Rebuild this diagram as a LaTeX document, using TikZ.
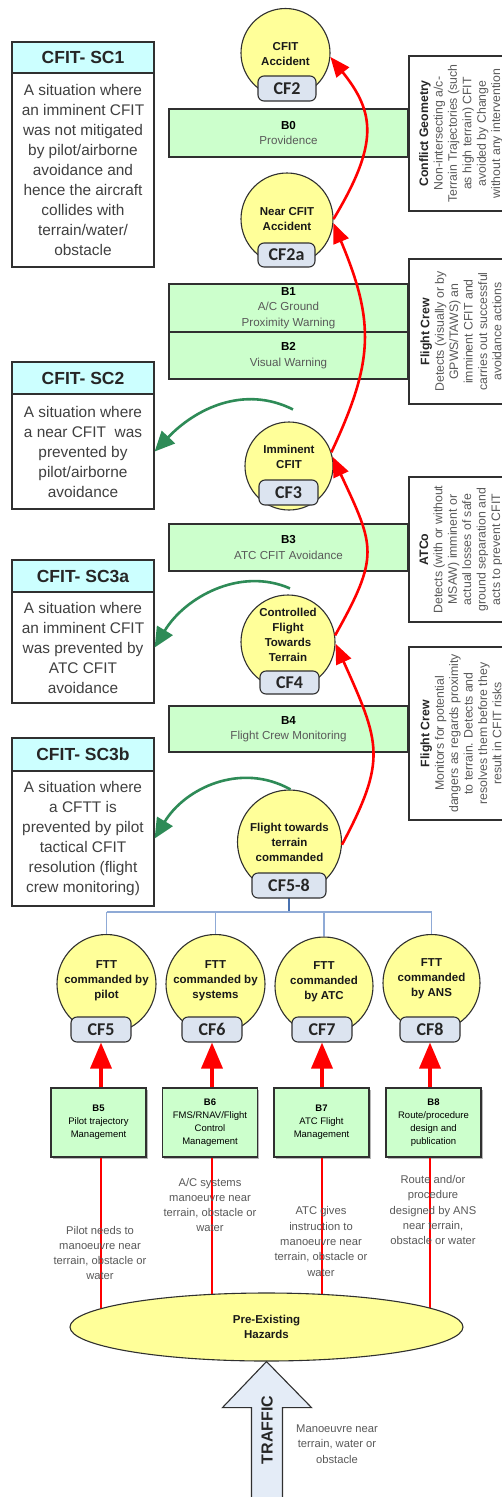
\documentclass[tikz,border=0pt]{standalone}
\usepackage{fontspec}
\setmainfont{Liberation Sans}
\newfontfamily\carl{Carlito}
\usetikzlibrary{arrows.meta,shapes.geometric,shadows}

\definecolor{cfyellow}{HTML}{FFFF99}
\definecolor{labblue}{HTML}{DCE4F0}
\definecolor{bgreen}{HTML}{CCFFCC}
\definecolor{sccyan}{HTML}{CCFFFF}
\definecolor{txtgray}{HTML}{595959}
\definecolor{outl}{HTML}{303030}
\definecolor{arrgreen}{RGB}{46,139,87}
\definecolor{treeblue}{HTML}{8FAAD6}
\definecolor{treedark}{HTML}{4A72B0}
\definecolor{traffblue}{HTML}{E4ECF7}

\newcommand\gry[1]{\textcolor{txtgray}{#1}}
\newcommand\ttl[1]{\textcolor{black!85}{\textbf{#1}}}

\tikzset{
  circ/.style={circle, draw=outl, fill=cfyellow, line width=1.1pt, inner sep=0pt},
  ctext/.style={align=center, inner sep=0pt, text=black!90, font=\bfseries\fontsize{11.5}{15}\selectfont},
  cflab/.style={draw=outl, fill=labblue, rounded corners=6pt, line width=1.1pt, inner sep=0pt,
    font=\carl\bfseries\fontsize{18}{18}\selectfont, text=black!85},
  bbar/.style={draw=outl, fill=bgreen, line width=1.1pt, inner sep=0pt, minimum width=239pt,
    align=center, font=\fontsize{11.6}{15.5}\selectfont},
  bsmall/.style={draw=outl, fill=bgreen, line width=1.1pt, inner sep=0pt, minimum width=95pt,
    minimum height=69pt, align=center, font=\fontsize{9.5}{13}\selectfont,
    drop shadow={shadow xshift=1.5pt, shadow yshift=-1.5pt, fill=black!55}},
  schead/.style={draw=outl, fill=sccyan, line width=1.3pt, minimum width=142pt, inner sep=0pt,
    font=\bfseries\fontsize{17.5}{20}\selectfont, text=black!85},
  scbody/.style={draw=outl, fill=white, line width=1.3pt, minimum width=142pt, inner sep=0pt,
    align=center, font=\fontsize{15.4}{20}\selectfont, text=black!75},
  rbox/.style={draw=outl, fill=white, line width=1.3pt, rotate=90, inner sep=0pt, align=center,
    minimum height=104pt, font=\fontsize{12.3}{14.4}\selectfont, text=txtgray},
  note/.style={align=center, inner sep=0pt, text=txtgray, font=\fontsize{11.2}{15.3}\selectfont},
  redcurve/.style={draw=red, line width=2.6pt, -{Triangle[length=20pt,width=16pt]}},
  greencurve/.style={draw=arrgreen, line width=2.6pt, -{Triangle[length=20pt,width=18pt]}},
  redup/.style={draw=red, line width=3.5pt, -{Triangle[length=26pt,width=21pt]}},
  redline/.style={draw=red, line width=2.6pt},
  tree/.style={draw=treeblue, line width=1.8pt},
}

\begin{document}
\begin{tikzpicture}[x=1pt,y=-1pt]
\useasboundingbox (0,0) rectangle (502,1497);
\fill[white] (0,0) rectangle (502,1497);

% ---------- scenario boxes (left column) ----------
\node[schead, minimum height=31pt] (sc1h) at (83,57.5) {CFIT- SC1};
\node[scbody, minimum height=194pt] (sc1) at (83,170) {A situation where\\an imminent CFIT\\was not mitigated\\by pilot/airborne\\avoidance and\\hence the aircraft\\collides with\\terrain/water/\\obstacle};

\node[schead, minimum height=32pt] (sc2h) at (83,378) {CFIT- SC2};
\node[scbody, minimum height=115pt] (sc2) at (83,451.5) {A situation where\\a near CFIT\ \ was\\prevented by\\pilot/airborne\\avoidance};

\node[schead, minimum height=32pt] (sc3ah) at (83,576) {CFIT- SC3a};
\node[scbody, minimum height=111pt] (sc3a) at (83,647.5) {A situation where\\an imminent CFIT\\was prevented by\\ATC CFIT\\avoidance};

\node[schead, minimum height=33pt] (sc3bh) at (83,754.5) {CFIT- SC3b};
\node[scbody, minimum height=135pt] (sc3b) at (83,838.5) {A situation where\\a CFTT is\\prevented by pilot\\tactical CFIT\\resolution (flight\\crew monitoring)};

% ---------- barrier bars ----------
\node[bbar, minimum height=48pt] (b0) at (288.5,133) {\textbf{B0}\\\gry{Providence}};
\node[bbar, minimum height=48pt] (b1) at (288.5,308) {\textbf{B1}\\\gry{A/C Ground}\\\gry{Proximity Warning}};
\node[bbar, minimum height=47pt] (b2) at (288.5,355.5) {\textbf{B2}\\\gry{Visual Warning}};
\node[bbar, minimum height=47pt] (b3) at (288.5,547.5) {\textbf{B3}\\\gry{ATC CFIT Avoidance}};
\node[bbar, minimum height=46pt] (b4) at (288.5,729) {\textbf{B4}\\\gry{Flight Crew Monitoring}};

% ---------- actor boxes (right column, rotated text) ----------
\node[rbox, minimum width=155pt] (r0) at (461,133.5) {\ttl{Conflict Geometry}\\Non-intersecting a/c-\\Terrain Trajectories (such\\as high terrain) CFIT\\avoided by Change\\without any intervention};
\node[rbox, minimum width=145pt] (r1) at (461,331.5) {\ttl{Flight Crew}\\Detects (visually or by\\GPWS/TAWS) an\\imminent CFIT and\\carries out successful\\avoidance actions};
\node[rbox, minimum width=145pt] (r2) at (461,549.5) {\ttl{ATCo}\\Detects (with or without\\MSAW) imminent or\\actual losses of safe\\ground separation and\\acts to prevent CFIT};
\node[rbox, minimum width=173pt] (r3) at (461,733.5) {\ttl{Flight Crew}\\Monitors for potential\\dangers as regards proximity\\to terrain. Detects and\\resolves them before they\\result in CFIT risks};

% ---------- tree from CF5-8 to the four causes ----------
\coordinate (tj) at (289,912);
\coordinate (t58) at (289,898);
\draw[tree, draw=treedark] (t58) -- (tj);
\draw[tree] (106.5,912) -- (431.5,912);

% ---------- central chain of circles ----------
\node[circ, minimum size=89pt] (cf2) at (285.5,53) {};
\node[ctext] (cf2t) at (285.5,54.5) {CFIT\\Accident};
\node[cflab, minimum width=58pt, minimum height=25pt] (l2) at (287,88.5) {CF2};

\node[circ, minimum size=92pt] (cf2a) at (287,219) {};
\node[ctext] (cf2at) at (287,219) {Near CFIT\\Accident};
\node[cflab, minimum width=57pt, minimum height=24pt] (l2a) at (286.5,255) {CF2a};

\node[circ, minimum size=88pt] (cf3) at (289,466) {};
\node[ctext] (cf3t) at (289,456.5) {Imminent\\CFIT};
\node[cflab, minimum width=59pt, minimum height=25pt] (l3) at (288.5,492.5) {CF3};

\node[circ, minimum size=94pt] (cf4) at (288,642) {};
\node[ctext] (cf4t) at (288,635) {Controlled\\Flight\\Towards\\Terrain};
\node[cflab, minimum width=59pt, minimum height=23pt] (l4) at (289.5,682.5) {CF4};

\node[circ, minimum size=104pt] (cf58) at (289.5,842) {};
\node[ctext] (cf58t) at (289.5,842.5) {Flight towards\\terrain\\commanded};
\node[cflab, minimum width=74pt, minimum height=25pt] (l58) at (289,885.5) {CF5-8};

% ---------- the four commanding causes ----------
\node[circ, minimum size=99pt] (cf5) at (106.5,984) {};
\node[circ, minimum size=99pt] (cf6) at (215.5,984) {};
\node[circ, minimum size=98pt] (cf7) at (324,986) {};
\node[circ, minimum size=97pt] (cf8) at (431.5,983) {};
\draw[tree] (cf5.north |- tj) -- (cf5.north);
\draw[tree] (cf6.north |- tj) -- (cf6.north);
\draw[tree] (cf7.north |- tj) -- (cf7.north);
\draw[tree] (cf8.north |- tj) -- (cf8.north);
\node[ctext] (cf5t) at (106.5,980.5) {FTT\\commanded by\\pilot};
\node[ctext] (cf6t) at (215.5,980.5) {FTT\\commanded by\\systems};
\node[ctext] (cf7t) at (324,982) {FTT\\commanded\\by ATC};
\node[ctext] (cf8t) at (431.5,979) {FTT\\commanded\\by ANS};
\node[cflab, minimum width=60pt, minimum height=25pt] (l5) at (101,1029.5) {CF5};
\node[cflab, minimum width=60pt, minimum height=25pt] (l6) at (212,1029.5) {CF6};
\node[cflab, minimum width=60pt, minimum height=25pt] (l7) at (322,1029.5) {CF7};
\node[cflab, minimum width=60pt, minimum height=25pt] (l8) at (430,1029.5) {CF8};

% ---------- lower barriers ----------
\node[bsmall] (b5) at (98.5,1122.5) {\textbf{B5}\\Pilot trajectory\\Management};
\node[bsmall] (b6) at (210,1122.5) {\textbf{B6}\\FMS/RNAV/Flight\\Control\\Management};
\node[bsmall] (b7) at (321.5,1122.5) {\textbf{B7}\\ATC Flight\\Management};
\node[bsmall] (b8) at (433.5,1122.5) {\textbf{B8}\\Route/procedure\\design and\\publication};

\draw[redup] (b5.north -| l5.south) -- (l5.south);
\draw[redup] (b6.north -| l6.south) -- (l6.south);
\draw[redup] (b7.north -| l7.south) -- (l7.south);
\draw[redup] (b8.north -| l8.south) -- (l8.south);

% ---------- hazards and the lines leading up from them ----------
\coordinate (hzc) at (266.5,1327);
\draw[redline] (b5.south -| l5.south) -- (l5.south |- hzc);
\draw[redline] (b6.south -| l6.south) -- (l6.south |- hzc);
\draw[redline] (b7.south -| l7.south) -- (l7.south |- hzc);
\draw[redline] (b8.south -| l8.south) -- (l8.south |- hzc);

\node[note] (n5) at (100,1253) {Pilot needs to\\manoeuvre near\\terrain, obstacle or\\water};
\node[note] (n6) at (210,1205) {A/C systems\\manoeuvre near\\terrain, obstacle or\\water};
\node[note] (n7) at (321,1241.5) {ATC gives\\instruction to\\manoeuvre near\\terrain, obstacle or\\water};
\node[note] (n8) at (433,1210) {Route and/or\\procedure\\designed by ANS\\near terrain,\\obstacle or water};

\node[ellipse, draw=outl, fill=cfyellow, line width=1.1pt, minimum width=393pt, minimum height=68pt,
  inner sep=0pt, align=center, font=\bfseries\fontsize{11.5}{15}\selectfont, text=black!90]
  (haz) at (hzc) {Pre-Existing\\Hazards};

% ---------- traffic block arrow ----------
\draw[draw=outl, fill=traffblue, line width=1.1pt]
  (haz.south) -- ++(45,46) -- ++(-29,0) -- ++(0,110) -- ++(-31,0) -- ++(0,-110) -- ++(-29,0) -- cycle;
\node[rotate=90, inner sep=0pt, font=\bfseries\fontsize{16}{16}\selectfont, text=black!85] (traffic) at (267,1430) {TRAFFIC};
\node[note] (nt) at (337,1444) {Manoeuvre near\\terrain, water or\\obstacle};

% ---------- escalation arrows (red) ----------
\draw[redcurve] (cf2a.east) .. controls +(45,-75) and +(45,56) .. (cf2.-5);
\draw[redcurve] (cf3.18) .. controls +(42,-90) and +(42,100) .. (cf2a.-5);
\draw[redcurve] (cf4.8) .. controls +(45,-80) and +(42,90) .. (cf3.12);
\draw[redcurve] (cf58.-3) .. controls +(45,-85) and +(45,100) .. (cf4.-2);

% ---------- recovery arrows (green) ----------
\coordinate (g1) at ([shift={(4,-12)}]cf3.north);
\coordinate (g2) at ([shift={(2,-6)}]cf4.north);
\coordinate (g3) at ([shift={(1,0)}]cf58.north);
\draw[greencurve] (g1) .. controls +(-50,-25) and +(40,-42) .. (sc2.east);
\draw[greencurve] (g2) .. controls +(-50,-22) and +(30,-50) .. (sc3a.east);
\draw[greencurve] (g3) .. controls +(-50,-28) and +(30,-50) .. (sc3b.east);
\end{tikzpicture}
\end{document}
